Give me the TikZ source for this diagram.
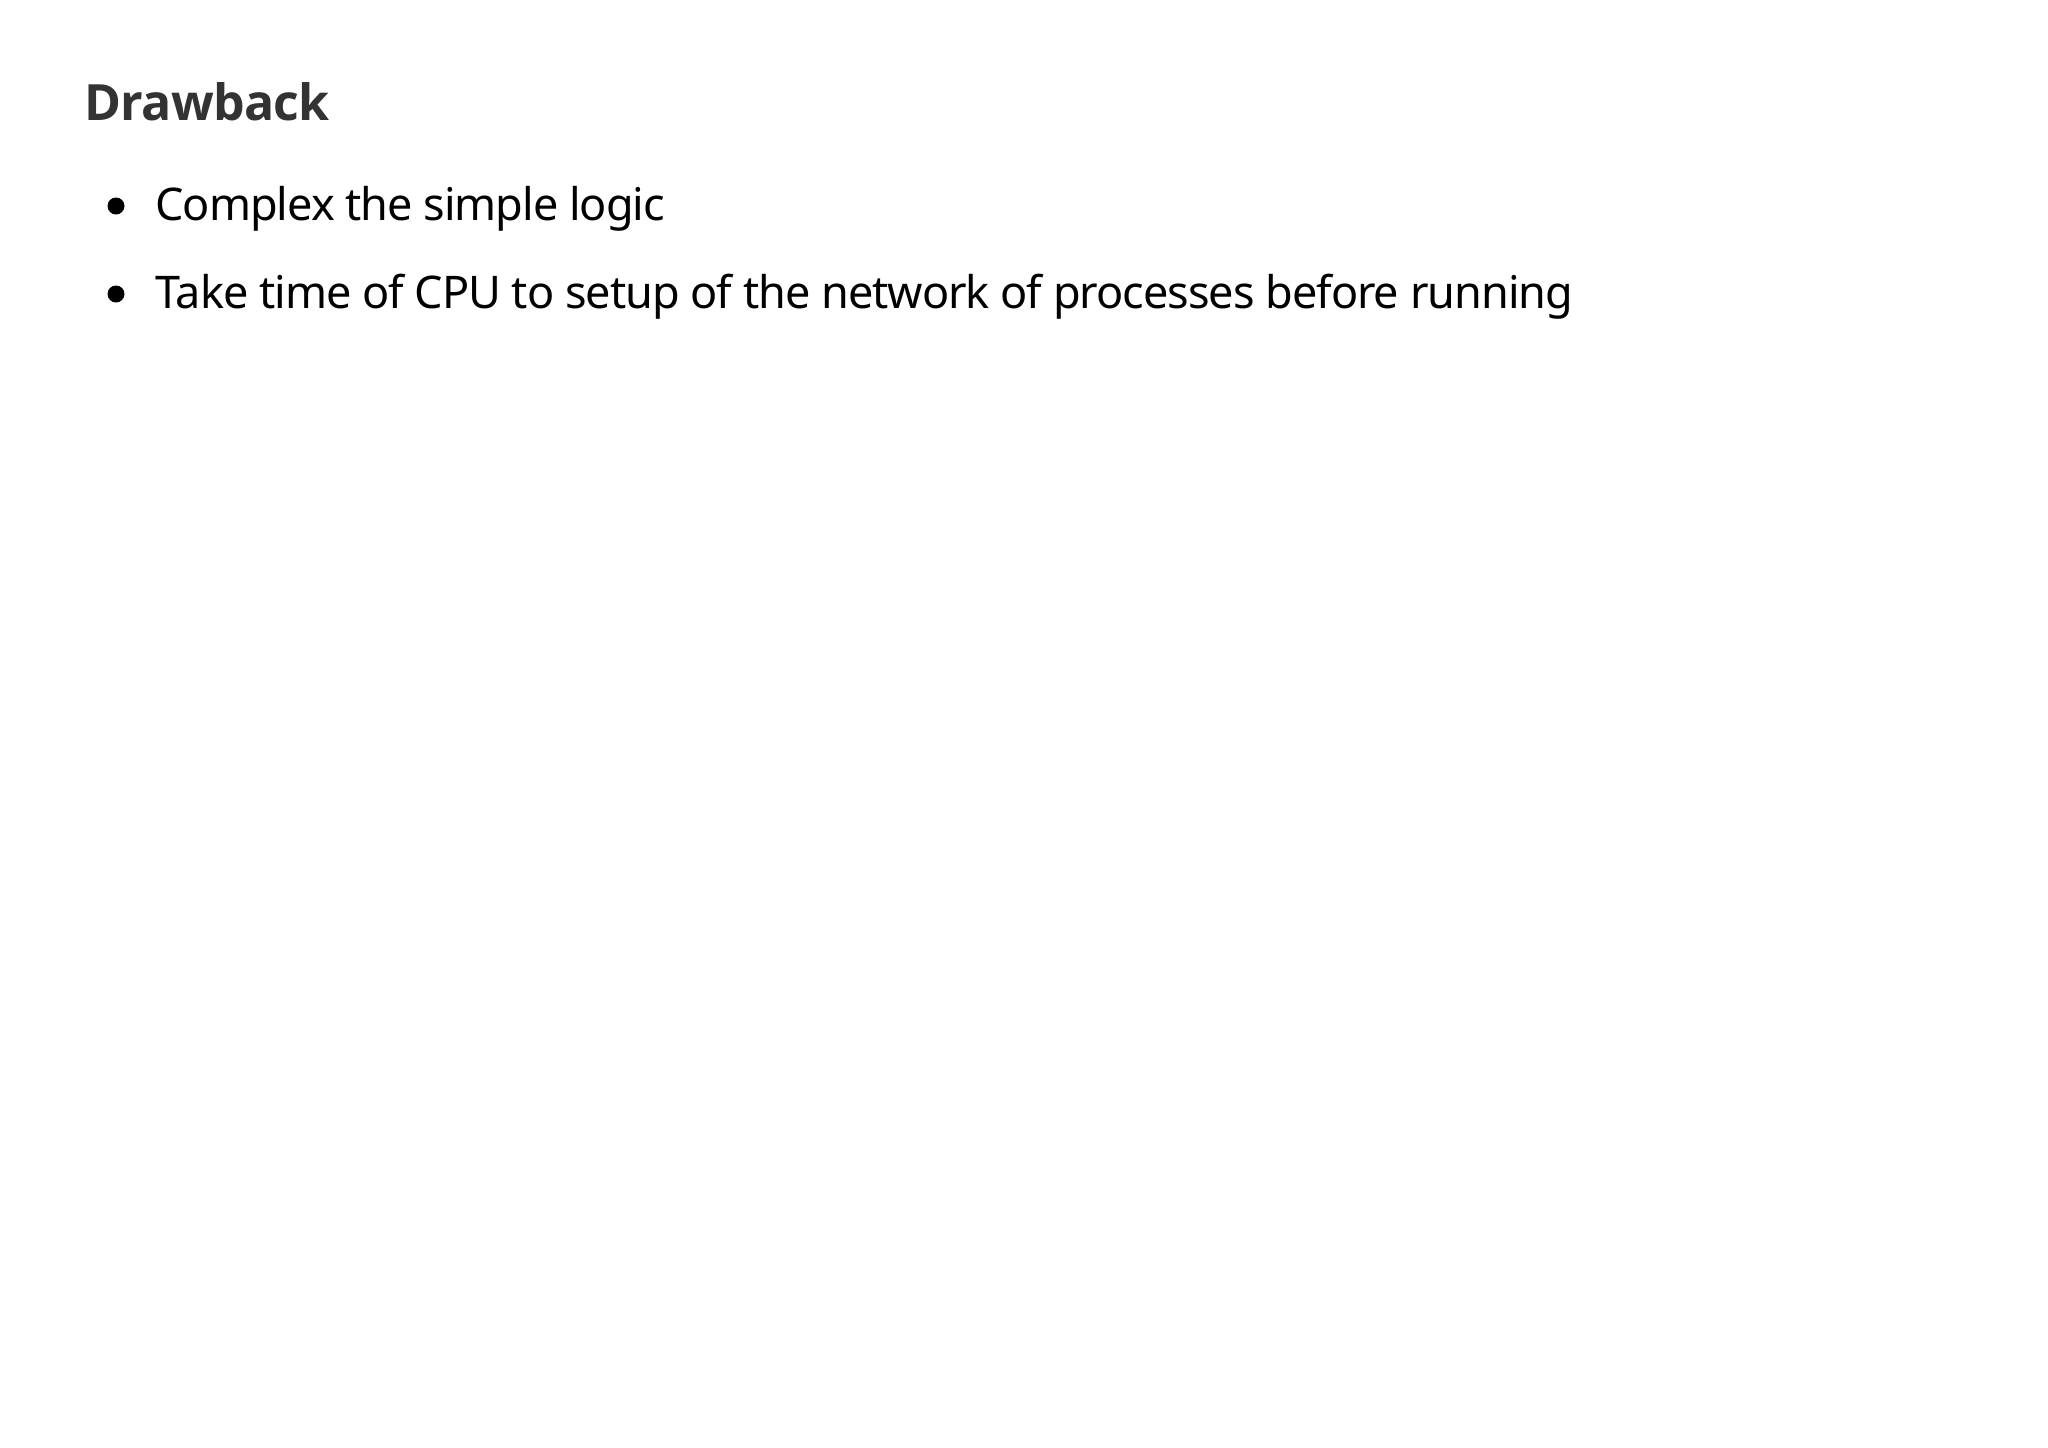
\documentclass[tikz,border=0pt]{standalone}
\usepackage{fontspec}
\setmainfont{Noto Sans}[LetterSpace=-2.2]
\newfontfamily\headfont{Open Sans}[LetterSpace=-1.5]
\usepackage{tikz}
\usetikzlibrary{positioning}
\definecolor{titlegray}{HTML}{333333}
\tikzset{
  heading/.style={anchor=base west, inner sep=0pt, font=\headfont\fontsize{25}{30}\selectfont\bfseries, text=titlegray},
  itemtext/.style={anchor=base west, inner sep=0pt, font=\fontsize{22.5}{27}\selectfont, text=black},
  itemdot/.style={fill=black}
}
\begin{document}
\begin{tikzpicture}[x=0.5pt,y=-0.5pt]

    \useasboundingbox (0,0) rectangle (2048,1447);

	\draw (84,120) node[heading] (title) {Drawback};

	\fill[itemdot] (116,206) circle (8.5);
	\draw (155,220) node[itemtext] (item1) {Complex the simple logic};

	\fill[itemdot] (116,294) circle (8.5);
	\draw (155,308) node[itemtext] (item2) {Take time of CPU to setup of the network of processes before running};

\end{tikzpicture}
\end{document}
